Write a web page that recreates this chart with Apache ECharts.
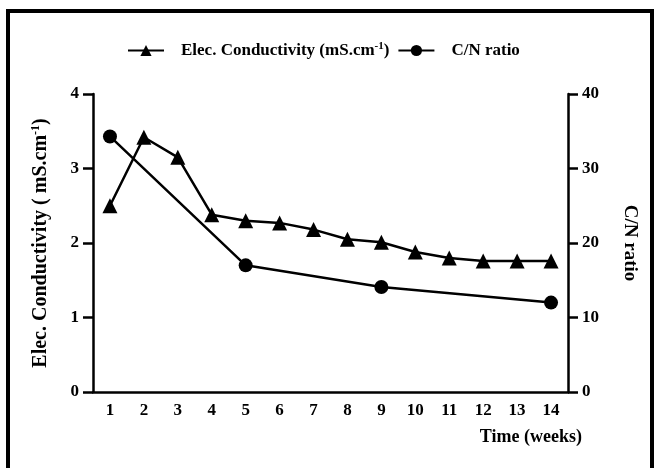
<!DOCTYPE html>
<html>
<head>
<meta charset="utf-8">
<script src="https://cdn.jsdelivr.net/npm/echarts@6/dist/echarts.min.js"></script>
<style>
html,body{margin:0;padding:0;background:#fff;}
#chart{width:656px;height:468px;}
</style>
</head>
<body>
<div id="chart"></div>
<script>
const weeks = ['1','2','3','4','5','6','7','8','9','10','11','12','13','14'];
const ecValues = [2.5, 3.42, 3.15, 2.38, 2.3, 2.27, 2.18, 2.05, 2.01, 1.88, 1.8, 1.76, 1.76, 1.76];
const cnValues = [34.3, null, null, null, 17.0, null, null, null, 14.1, null, null, null, null, 12.0];
const leftTicks = [0, 4, 1];
const rightTicks = [0, 40, 10];

const FONT = '"Liberation Serif", "Times New Roman", serif';
const chart = echarts.init(document.getElementById('chart'));
chart.setOption({
  animation: false,
  backgroundColor: '#fff',
  textStyle: {fontFamily: FONT, fontWeight: 'bold', color: '#000'},
  graphic: [{
    type: 'rect', shape: {x: 8, y: 11, width: 644, height: 480},
    style: {fill: 'none', stroke: '#000', lineWidth: 4}, silent: true
  }],
  legend: {
    top: 36, left: 122, itemGap: 8, itemWidth: 36, itemHeight: 14,
    textStyle: {fontFamily: FONT, fontWeight: 'bold', fontSize: 17, color: '#000',
      rich: {a: {fontFamily: FONT, fontWeight: 'bold', fontSize: 17, color: '#000'},
             p: {fontFamily: FONT, fontWeight: 'bold', fontSize: 17, color: '#000', padding: [0, 0, 0, 12]},
             s: {fontFamily: FONT, fontWeight: 'bold', fontSize: 11, color: '#000', verticalAlign: 'top', padding: [0,0,8,0]}}},
    formatter: function (n) {
      return n === 'EC' ? '{p|Elec. Conductivity (mS.cm}{s|-1}{a|)}' : '{p|C/N ratio}';
    },
    data: ['EC', 'CN']
  },
  grid: {left: 93, right: 88, top: 94, bottom: 76},
  xAxis: {
    type: 'category', data: weeks, boundaryGap: true,
    axisLine: {lineStyle: {color: '#000', width: 2.5}},
    axisTick: {alignWithLabel: true, length: 7, lineStyle: {color: '#000', width: 2.5}},
    axisLabel: {fontFamily: FONT, fontWeight: 'bold', fontSize: 17, color: '#000', margin: 10},
    name: 'Time (weeks)', nameLocation: 'end', nameGap: 14,
    nameTextStyle: {fontFamily: FONT, fontWeight: 'bold', fontSize: 18, color: '#000', align: 'right', verticalAlign: 'top', padding: [36, 0, 0, 0]}
  },
  yAxis: [{
    type: 'value', min: leftTicks[0], max: leftTicks[1], interval: leftTicks[2],
    axisLine: {show: true, lineStyle: {color: '#000', width: 2.5}},
    axisTick: {show: true, length: 10, lineStyle: {color: '#000', width: 2.5}},
    splitLine: {show: false},
    axisLabel: {fontFamily: FONT, fontWeight: 'bold', fontSize: 17, color: '#000', margin: 14},
    name: '{a|Elec. Conductivity ( mS.cm}{s|-1}{a|)}', nameLocation: 'middle', nameGap: 42,
    nameTextStyle: {rich: {a: {fontFamily: FONT, fontWeight: 'bold', fontSize: 20, color: '#000'},
                           s: {fontFamily: FONT, fontWeight: 'bold', fontSize: 12, color: '#000', verticalAlign: 'top', padding: [0,0,9,0]}}}
  }, {
    type: 'value', min: rightTicks[0], max: rightTicks[1], interval: rightTicks[2], position: 'right',
    axisLine: {show: true, lineStyle: {color: '#000', width: 2.5}},
    axisTick: {show: true, length: 10, lineStyle: {color: '#000', width: 2.5}},
    splitLine: {show: false},
    axisLabel: {fontFamily: FONT, fontWeight: 'bold', fontSize: 17, color: '#000', margin: 14},
    name: 'C/N ratio', nameLocation: 'middle', nameGap: 52, nameRotate: -90,
    nameTextStyle: {fontFamily: FONT, fontWeight: 'bold', fontSize: 19, color: '#000'}
  }],
  series: [{
    name: 'EC', type: 'line', yAxisIndex: 0, data: ecValues,
    symbol: 'triangle', symbolSize: 15,
    lineStyle: {color: '#000', width: 2.5}, itemStyle: {color: '#000'}
  }, {
    name: 'CN', type: 'line', yAxisIndex: 1, data: cnValues, connectNulls: true,
    symbol: 'circle', symbolSize: 14,
    lineStyle: {color: '#000', width: 2.5}, itemStyle: {color: '#000'}
  }]
});
</script>
</body>
</html>
